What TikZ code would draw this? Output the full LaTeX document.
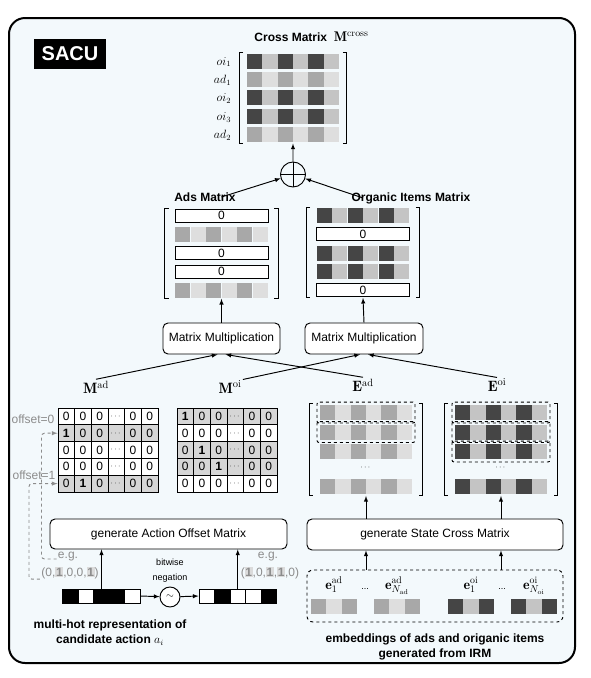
\documentclass[tikz,border=0pt]{standalone}
\usepackage{amsmath,amssymb}
\usepackage{fontspec}
\setsansfont{Liberation Sans}
\usetikzlibrary{calc,fit,arrows,positioning}
\definecolor{bgblue}{RGB}{243,249,252}
\definecolor{oidark}{gray}{0.27}
\definecolor{oilight}{gray}{0.77}
\definecolor{admid}{gray}{0.66}
\definecolor{adlight}{gray}{0.87}
\definecolor{rowgrey}{gray}{0.84}
\definecolor{hintgrey}{gray}{0.55}
\definecolor{hlgrey}{gray}{0.86}
\setlength{\fboxsep}{0.6pt}
\newcommand{\hlone}{\colorbox{hlgrey}{\textbf{1}}}
\newcommand{\celldots}{{\fontsize{8}{8}\selectfont$\cdots$}}
% square brackets round a fitted matrix
\newcommand{\mbrackets}[1]{%
  \draw ([xshift=4pt]#1.north west) -- (#1.north west) -- (#1.south west) -- ([xshift=4pt]#1.south west);
  \draw ([xshift=-4pt]#1.north east) -- (#1.north east) -- (#1.south east) -- ([xshift=-4pt]#1.south east);}

\begin{document}
\begin{tikzpicture}[x=1pt,y=-1pt,>=latex,line width=0.95pt]

\tikzset{cell/.style={inner sep=0pt,minimum width=15.4pt,minimum height=15pt,draw=none},
zerorow/.style={draw,fill=white,inner sep=0pt,minimum width=93pt,minimum height=13pt,font=\sffamily\fontsize{12}{12}\selectfont},
numcell/.style={draw,inner sep=0pt,minimum width=16.67pt,minimum height=16.8pt,font=\sffamily\fontsize{12}{12}\selectfont},
procbox/.style={draw,fill=white,rounded corners=5pt,inner sep=0pt,font=\sffamily\fontsize{12}{14}\selectfont},
title/.style={font=\sffamily\bfseries\fontsize{12}{15}\selectfont,align=center,inner sep=1pt},
mlabel/.style={font=\fontsize{15}{17}\selectfont,inner sep=1pt},
hint/.style={text=hintgrey,font=\sffamily\fontsize{12}{14}\selectfont,inner sep=1pt},
offarrow/.style={->,draw=hintgrey,dashed,rounded corners=3pt},
bit/.style={draw,inner sep=0pt,minimum width=15.5pt,minimum height=14pt},
emrow/.style={draw,dashed,rounded corners=2pt,inner sep=2.5pt}}

\useasboundingbox (0,0) rectangle (591,678);

% Frame
\draw[line width=2pt,fill=bgblue,rounded corners=16pt] (9,18) rectangle (575,663);
\node[fill=black,text=white,font=\sffamily\bfseries\fontsize{20}{20}\selectfont,minimum width=72pt,minimum height=30pt,inner sep=0pt] (sacu) at (70,54) {SACU};

% Cross matrix
\node[title,anchor=west] (crosstitle) at (253,37) {Cross Matrix\ \ {\fontsize{14}{14}\selectfont$\mathbf{M}^{\mathrm{cross}}$}};
\foreach \r/\dk/\lt in {1/oidark/oilight,2/admid/adlight,3/oidark/oilight,4/oidark/oilight,5/admid/adlight} {
  \foreach \c in {1,3,5} \node[cell,fill=\dk] (cm\r\c) at ({247+15.33*(\c-0.5)},{42.6+18.4*\r}) {};
  \foreach \c in {2,4,6} \node[cell,fill=\lt] (cm\r\c) at ({247+15.33*(\c-0.5)},{42.6+18.4*\r}) {};
}
\foreach \r/\lab in {1/oi_1,2/ad_1,3/oi_2,4/oi_3,5/ad_2} \node[anchor=east,font=\fontsize{12}{12}\selectfont,inner sep=0pt] (cml\r) at ($(cm\r1.west)+(-15,1)$) {$\lab$};
\node[fit=(cm11)(cm56),inner xsep=7pt,inner ysep=0.5pt] (crossmat) {};
\mbrackets{crossmat}

\node[draw,circle,minimum size=25pt,inner sep=0pt] (oplus) at (293,174.5) {};
\draw (oplus.north) -- (oplus.south) (oplus.west) -- (oplus.east);
\draw[->] (oplus) -- (crossmat.south);

% Ads matrix
\foreach \r in {1,3,4} \node[zerorow] (am\r) at (221.5,{197.15+18.65*\r}) {0};
\foreach \r in {2,5} {
  \foreach \c in {1,3,5} \node[cell,fill=admid] (am\r\c) at ({175+15.5*(\c-0.5)},{197.15+18.65*\r}) {};
  \foreach \c in {2,4,6} \node[cell,fill=adlight] (am\r\c) at ({175+15.5*(\c-0.5)},{197.15+18.65*\r}) {};
}
\node[fit=(am1)(am51)(am56),inner xsep=9.5pt,inner ysep=0pt] (adsmat) {};
\mbrackets{adsmat}
\node[title] (adslabel) at (205,197) {Ads Matrix};

% Organic items matrix
\foreach \r in {2,5} \node[zerorow] (om\r) at (363,{197.15+18.65*\r}) {0};
\foreach \r in {1,3,4} {
  \foreach \c in {1,3,5} \node[cell,fill=oidark] (om\r\c) at ({316.5+15.5*(\c-0.5)},{197.15+18.65*\r}) {};
  \foreach \c in {2,4,6} \node[cell,fill=oilight] (om\r\c) at ({316.5+15.5*(\c-0.5)},{197.15+18.65*\r}) {};
}
\node[fit=(om11)(om16)(om5),inner xsep=9.5pt,inner ysep=0pt] (orgmat) {};
\mbrackets{orgmat}
\node[title] (orglabel) at (411,198) {Organic Items Matrix};

\draw[->] (adsmat.north |- adslabel.center) -- (oplus);
\draw[->] (orgmat.north |- orglabel.center) -- (oplus);

% Matrix multiplication
\node[procbox,minimum width=117pt,minimum height=31pt] (mmad) at (221.5,338.5) {Matrix Multiplication};
\node[procbox,minimum width=118pt,minimum height=31pt] (mmoi) at (364,338.5) {Matrix Multiplication};
\draw[->] (mmad.north) -- (adsmat.south);
\draw[->] (mmoi.north) -- (orgmat.south);

\node[mlabel] (mad) at (96,387) {$\mathbf{M}^{\mathrm{ad}}$};
\node[mlabel] (moi) at (230,387) {$\mathbf{M}^{\mathrm{oi}}$};
\node[mlabel] (ead) at (363,385) {$\mathbf{E}^{\mathrm{ad}}$};
\node[mlabel] (eoi) at (497,385) {$\mathbf{E}^{\mathrm{oi}}$};
\draw[->] (mad.north) -- ([xshift=-4pt]mmad.south);
\draw[->] (ead.north) -- ([xshift=4pt]mmad.south);
\draw[->] (moi.north east) -- ([xshift=-4pt]mmoi.south);
\draw[->] (eoi.north) -- ([xshift=4pt]mmoi.south);

% Action offset matrices
\foreach \r/\shade/\vals in {1/white/{0,0,0,\celldots,0,0},2/rowgrey/{\textbf{1},0,0,\celldots,0,0},3/white/{0,0,0,\celldots,0,0},4/white/{0,0,0,\celldots,0,0},5/rowgrey/{0,\textbf{1},0,\celldots,0,0}}
  \foreach \v [count=\c] in \vals \node[numcell,fill=\shade] (mad\r\c) at ({58+16.67*(\c-0.5)},{399.6+16.8*\r}) {\v};
\foreach \r/\shade/\vals in {1/rowgrey/{\textbf{1},0,0,\celldots,0,0},2/white/{0,0,0,\celldots,0,0},3/rowgrey/{0,\textbf{1},0,\celldots,0,0},4/rowgrey/{0,0,\textbf{1},\celldots,0,0},5/white/{0,0,0,\celldots,0,0}}
  \foreach \v [count=\c] in \vals \node[numcell,fill=\shade] (moi\r\c) at ({177+16.67*(\c-0.5)},{399.6+16.8*\r}) {\v};
\node[hint] (off0) at (33,419) {offset=0};
\node[hint] (off1) at (34,475) {offset=1};

% State embedding matrices
\foreach \r/\y in {1/412.5,2/432,3/451.5,4/486.5} {
  \foreach \c in {1,3,5} {
    \node[cell,fill=admid] (ea\r\c) at ({320+15.33*(\c-0.5)},\y) {};
    \node[cell,fill=oidark] (eo\r\c) at ({455+15.33*(\c-0.5)},\y) {};
  }
  \foreach \c in {2,4,6} {
    \node[cell,fill=adlight] (ea\r\c) at ({320+15.33*(\c-0.5)},\y) {};
    \node[cell,fill=oilight] (eo\r\c) at ({455+15.33*(\c-0.5)},\y) {};
  }
}
\foreach \r in {1,2} \node[emrow,fit=(ea\r1)(ea\r6)] (eabox\r) {};
\foreach \r in {1,2,3} \node[emrow,fit=(eo\r1)(eo\r6)] (eobox\r) {};
\node[inner sep=0pt] (eadots) at (366,468) {\celldots};
\node[inner sep=0pt] (eodots) at (501,468) {\celldots};
\node[fit=(ea11)(ea46),inner xsep=10pt,inner ysep=1pt] (eadmat) {};
\node[fit=(eo11)(eo46),inner xsep=10pt,inner ysep=1pt] (eoimat) {};
\mbrackets{eadmat}
\mbrackets{eoimat}

% Generators
\node[procbox,minimum width=237pt,minimum height=30pt] (gao) at (168.5,534) {generate Action Offset Matrix};
\node[procbox,minimum width=256pt,minimum height=31pt] (gsc) at (435,534.5) {generate State Cross Matrix};
\draw[->] (gsc.north -| eadmat.south) -- (eadmat.south);
\draw[->] (gsc.north -| eoimat.south) -- (eoimat.south);

% Embeddings from IRM
\node[draw,dashed,rounded corners=6pt,minimum width=256pt,minimum height=52pt] (embbox) at (435,596) {};
\foreach \g/\x/\dk/\lt in {1/311/admid/adlight,2/374/admid/adlight,3/448/oidark/oilight,4/511/oidark/oilight} {
  \foreach \c in {1,3} \node[cell,fill=\dk] (emb\g\c) at ({\x+15.33*(\c-0.5)},606.5) {};
  \node[cell,fill=\lt] (emb\g2) at ({\x+15.33*1.5},606.5) {};
}
\foreach \g/\lab in {1/\mathbf{e}_1^{\mathrm{ad}},2/\mathbf{e}_{N_{\mathrm{ad}}}^{\mathrm{ad}},3/\mathbf{e}_1^{\mathrm{oi}},4/\mathbf{e}_{N_{\mathrm{oi}}}^{\mathrm{oi}}}
  \node[anchor=base,font=\fontsize{14}{14}\selectfont,inner sep=0pt] (el\g) at ($(emb\g2)+(0,-17.5)$) {$\lab$};
\node[anchor=base,inner sep=0pt,font=\sffamily\fontsize{9}{9}\selectfont] (edots1) at (365,589) {...};
\node[anchor=base,inner sep=0pt,font=\sffamily\fontsize{9}{9}\selectfont] (edots2) at (502,589) {...};
\draw[->] (embbox.north -| eadmat.south) -- (gsc.south -| eadmat.south);
\draw[->] (embbox.north -| eoimat.south) -- (gsc.south -| eoimat.south);
\node[title] (embcap) at (435,647) {embeddings of ads and origanic items\\generated from IRM};

% Candidate action
\foreach \c/\f in {1/black,2/white,3/black,4/black,5/white} \node[bit,fill=\f] (mh\c) at ({63+15.4*(\c-0.5)},596) {};
\foreach \c/\f in {1/white,2/black,3/white,4/white,5/black} \node[bit,fill=\f] (nb\c) at ({199+15.5*(\c-0.5)},596) {};
\node[draw,circle,fill=white,minimum size=20pt,inner sep=0pt] (neg) at (170,597) {$\sim$};
\node[font=\sffamily\fontsize{9}{15}\selectfont,align=center,inner sep=0pt] (negl) at (170,570.5) {bitwise\\negation};
\draw[->] (mh5.east) -- (neg);
\draw[->] (neg) -- (nb1.west);
\draw[->] (mh3.north) -- (mh3.north |- gao.south);
\draw[->] (nb3.north) -- (nb3.north |- gao.south);
\node[title] (mhcap) at (110,633) {multi-hot representation of\\candidate action $a_i$};

% Examples and offsets
\node[hint] (egl) at (68,557) {e.g.};
\node[hint] (exl) at (70,573) {(0,\hlone,0,0,\hlone)};
\node[hint] (egr) at (268,557) {e.g.};
\node[hint] (exr) at (270,573) {(\hlone,0,\hlone,\hlone,0)};
\draw[offarrow] (egl.base west) -- ++(-15,0) |- (mad21.west);
\draw[offarrow] ([yshift=-3pt]exl.base west) -- ++(-11,0) |- (mad51.west);

\end{tikzpicture}
\end{document}
